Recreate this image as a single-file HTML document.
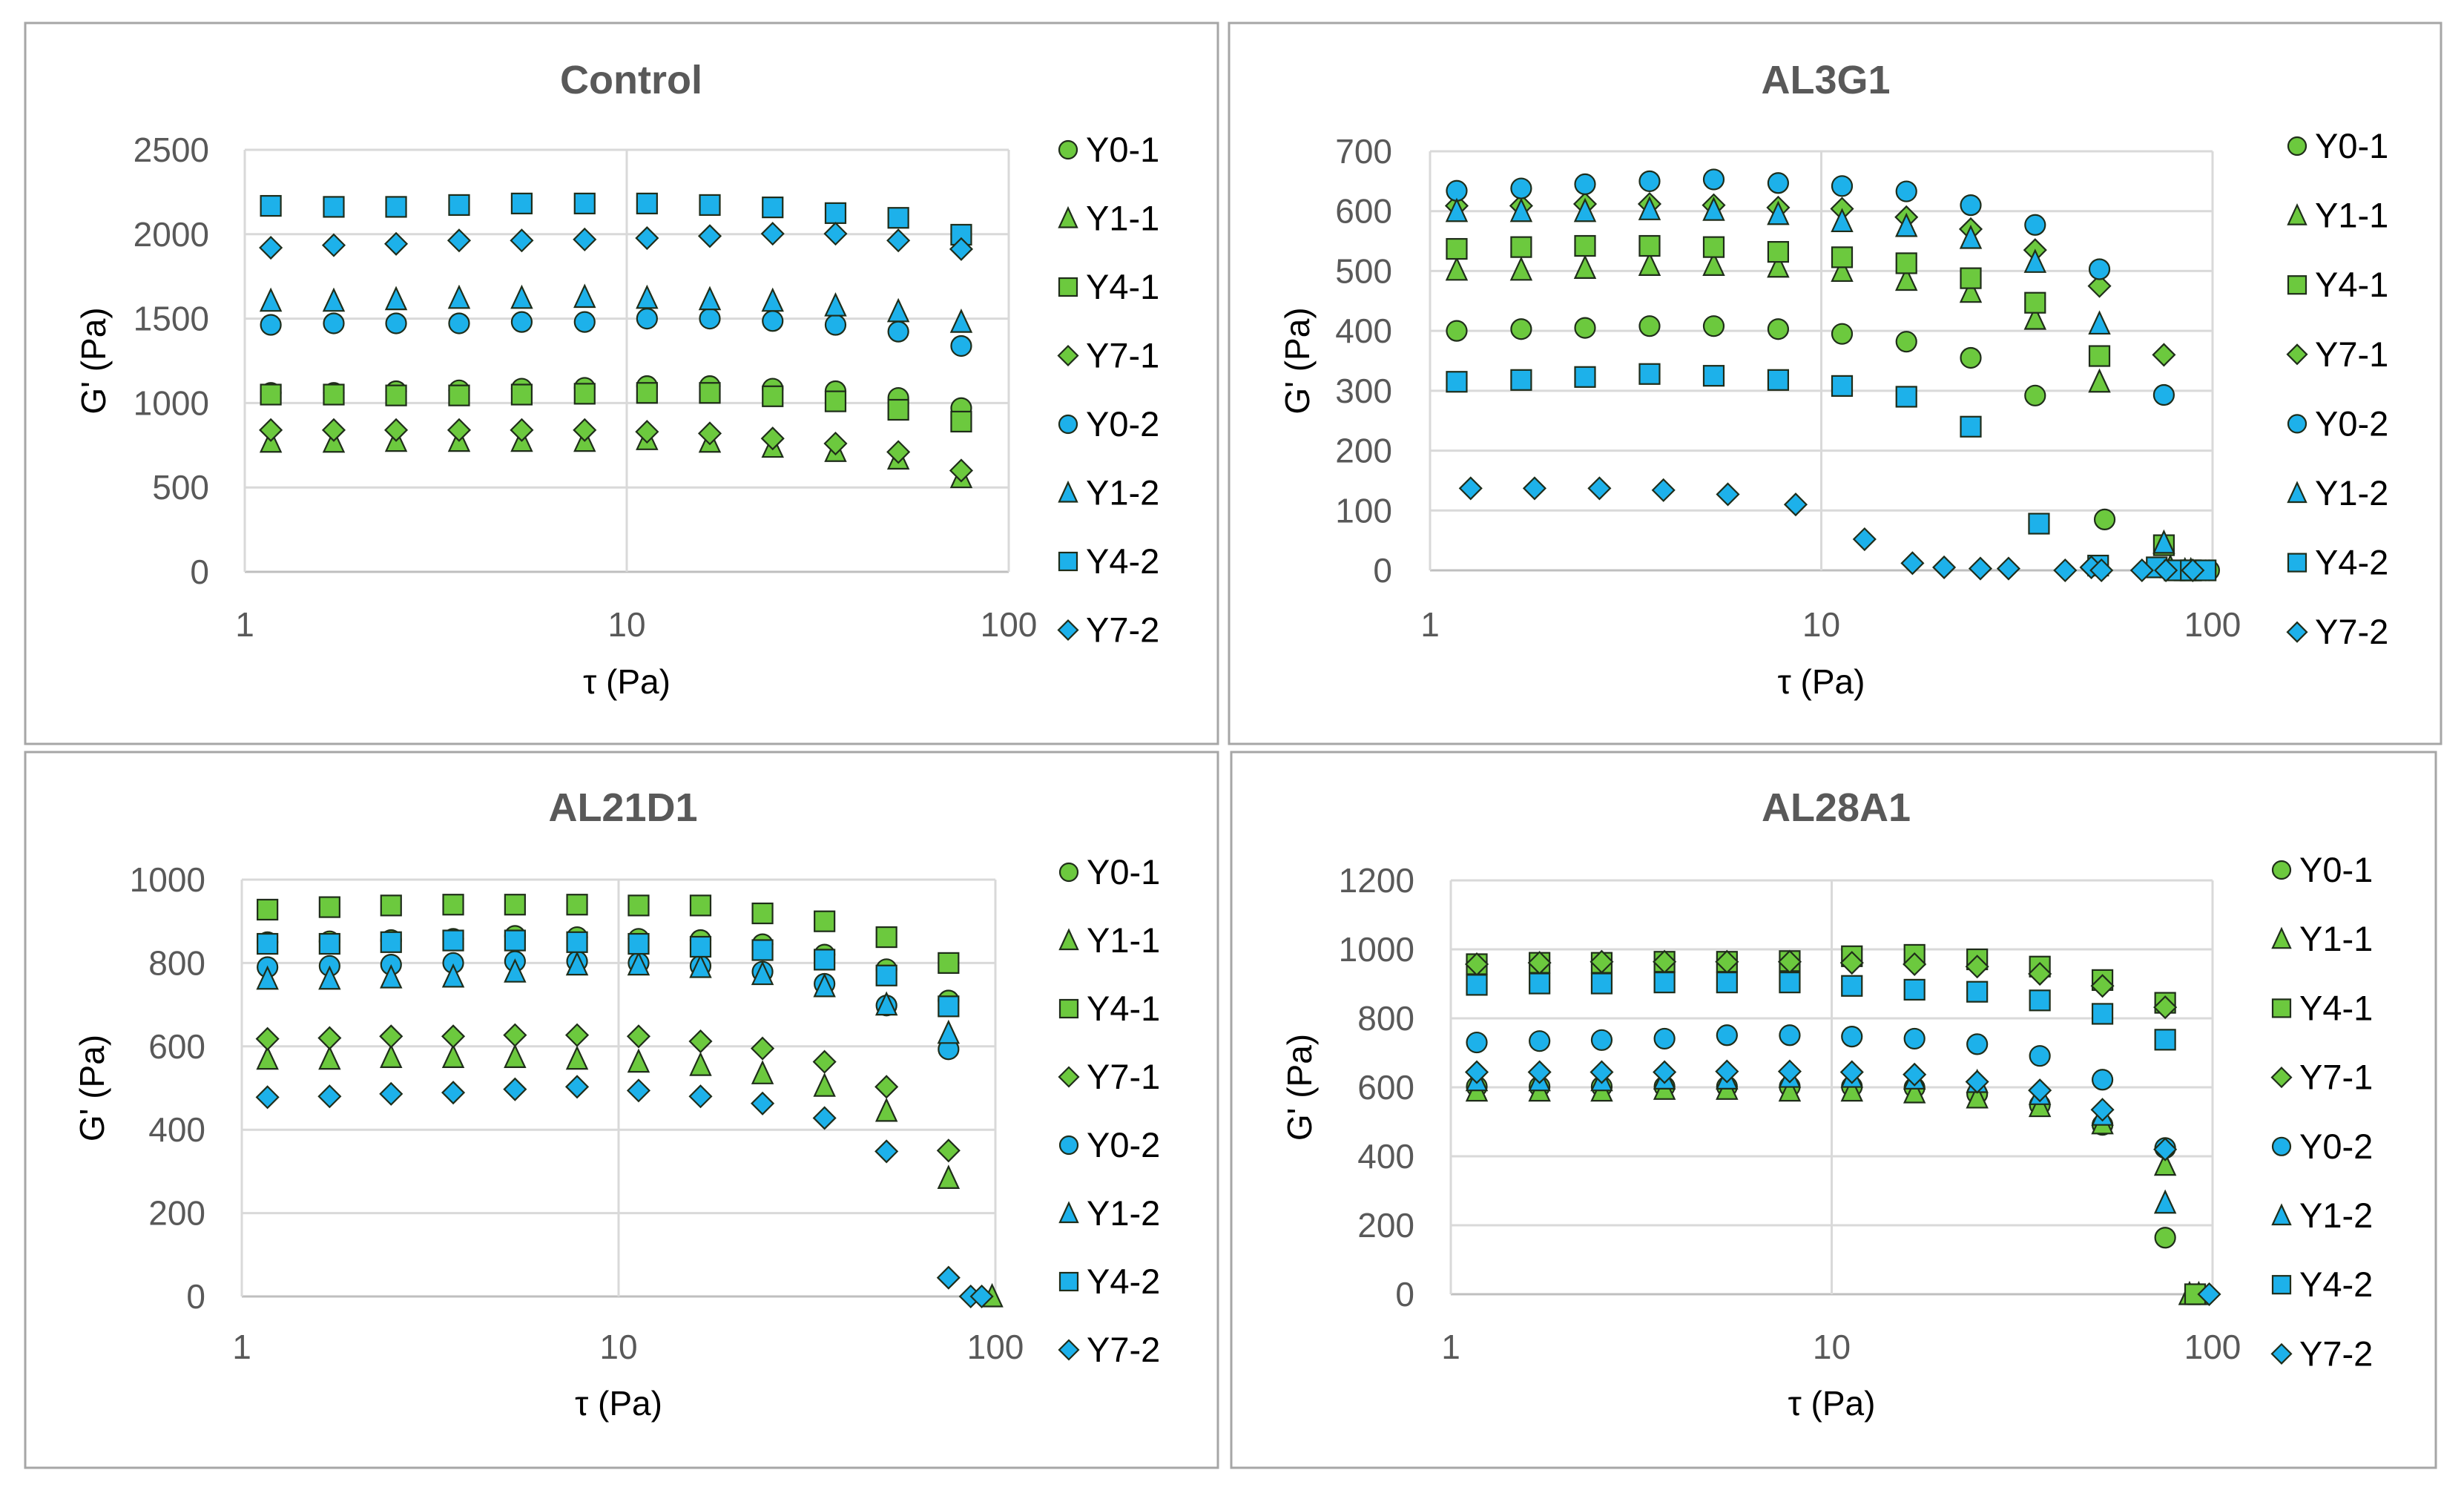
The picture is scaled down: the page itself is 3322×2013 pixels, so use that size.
<!DOCTYPE html>
<html><head><meta charset="utf-8"><title>G' vs tau</title>
<style>
html,body{margin:0;padding:0;background:#fff;}
svg{display:block;font-family:"Liberation Sans",sans-serif;}
</style></head>
<body>
<svg id="root" width="3322" height="2013" viewBox="0 0 3322 2013" xmlns="http://www.w3.org/2000/svg"></svg>
<script>
// ---- shared data ----
const seriesNames = ["Y0-1","Y1-1","Y4-1","Y7-1","Y0-2","Y1-2","Y4-2","Y7-2"];
const tau = [1.17,1.71,2.49,3.64,5.31,7.76,11.3,16.5,24.1,35.2,51.4,75.1];
const xTickLabels = ["1","10","100"];

// ---- Control ----
const ctrlYTicks = [0,500,1000,1500,2000,2500];
const ctrl_Y0_1 = [1060,1060,1070,1075,1085,1090,1100,1100,1085,1070,1030,970];
const ctrl_Y1_1 = [770,770,775,775,775,775,785,770,740,715,670,560];
const ctrl_Y4_1 = [1050,1050,1045,1045,1050,1055,1060,1060,1040,1010,960,890];
const ctrl_Y7_1 = [840,840,840,840,840,840,830,820,790,760,710,600];
const ctrl_Y0_2 = [1463,1472,1472,1472,1480,1480,1500,1500,1486,1463,1423,1338];
const ctrl_Y1_2 = [1605,1605,1614,1622,1622,1628,1622,1614,1605,1577,1543,1480];
const ctrl_Y4_2 = [2168,2162,2162,2173,2182,2182,2182,2173,2159,2125,2097,1997];
const ctrl_Y7_2 = [1920,1935,1943,1963,1963,1969,1977,1989,2003,2003,1963,1912];

// ---- AL3G1 ----
const al3YTicks = [0,100,200,300,400,500,600,700];
const al3_Y0_1_x = [1.17,1.71,2.49,3.64,5.31,7.76,11.3,16.5,24.1,35.2,53,98];
const al3_Y0_1 = [400,403,405,408,408,403,395,382,355,292,85,0];
const al3_Y1_1_x = [1.17,1.71,2.49,3.64,5.31,7.76,11.3,16.5,24.1,35.2,51.4,78,88];
const al3_Y1_1 = [502,502,505,510,510,507,500,485,465,420,315,5,0];
const al3_Y4_1_x = [1.17,1.71,2.49,3.64,5.31,7.76,11.3,16.5,24.1,35.2,51.4,75.1,88];
const al3_Y4_1 = [537,540,542,542,540,532,523,513,488,447,358,42,0];
const al3_Y7_1 = [609,609,612,612,610,606,604,590,570,535,475,360];
const al3_Y0_2_x = [1.17,1.71,2.49,3.64,5.31,7.76,11.3,16.5,24.1,35.2,51.4,75.1,96];
const al3_Y0_2 = [634,638,645,650,653,647,642,633,610,577,503,293,0];
const al3_Y1_2_x = [1.17,1.71,2.49,3.64,5.31,7.76,11.3,16.5,24.1,35.2,51.4,75.1,85];
const al3_Y1_2 = [600,600,600,603,602,595,583,575,555,515,412,46,0];
const al3_Y4_2_x = [1.17,1.71,2.49,3.64,5.31,7.76,11.3,16.5,24.1,36,51,72,80,88,96];
const al3_Y4_2 = [315,318,323,328,325,318,308,290,240,78,8,5,0,0,0];
const al3_Y7_2_x = [1.27,1.85,2.71,3.95,5.77,8.6,12.9,17.1,20.6,25.5,30.1,42,49,52,66,76,89];
const al3_Y7_2 = [137,137,137,134,127,110,52,12,5,3,3,0,5,0,0,0,0];

// ---- AL21D1 ----
const al21YTicks = [0,200,400,600,800,1000];
const al21_Y0_1 = [850,852,855,858,865,862,858,855,845,820,785,710];
const al21_Y1_1_x = [1.17,1.71,2.49,3.64,5.31,7.76,11.3,16.5,24.1,35.2,51.4,75.1,98];
const al21_Y1_1 = [570,570,574,574,574,570,563,555,535,505,445,284,0];
const al21_Y4_1 = [928,934,938,940,940,940,938,938,919,900,862,800];
const al21_Y7_1 = [618,620,624,624,627,627,624,612,595,563,503,350];
const al21_Y0_2 = [790,793,796,800,804,804,800,793,779,750,698,593];
const al21_Y1_2 = [762,762,765,767,779,796,796,790,773,744,700,632];
const al21_Y4_2 = [846,846,850,854,854,850,846,839,831,808,770,696];
const al21_Y7_2_x = [1.17,1.71,2.49,3.64,5.31,7.76,11.3,16.5,24.1,35.2,51.4,75.1,86,92];
const al21_Y7_2 = [478,480,486,489,497,503,494,480,463,428,348,45,0,0];

// ---- AL28A1 ----
const al28YTicks = [0,200,400,600,800,1000,1200];
const al28_Y0_1 = [602,602,602,602,602,602,602,599,581,549,491,164];
const al28_Y1_1_x = [1.17,1.71,2.49,3.64,5.31,7.76,11.3,16.5,24.1,35.2,51.4,75.1,87,92];
const al28_Y1_1 = [590,590,590,595,595,590,590,585,570,545,495,375,0,0];
const al28_Y4_1_x = [1.17,1.71,2.49,3.64,5.31,7.76,11.3,16.5,24.1,35.2,51.4,75.1,90];
const al28_Y4_1 = [957,961,961,964,964,966,980,984,971,950,911,845,0];
const al28_Y7_1 = [957,961,964,964,964,964,961,957,950,929,894,832];
const al28_Y0_2 = [730,734,737,741,751,751,747,741,725,691,622,424];
const al28_Y1_2 = [620,620,620,625,625,630,630,625,615,580,520,265];
const al28_Y4_2 = [897,901,901,904,904,904,894,883,877,852,813,738];
const al28_Y7_2_x = [1.17,1.71,2.49,3.64,5.31,7.76,11.3,16.5,24.1,35.2,51.4,75.1,98];
const al28_Y7_2 = [644,644,644,644,646,646,644,637,616,591,535,420,0];

const GREEN = "#6cc93e", BLUE = "#1db1ea", STROKE = "#1f2d1a";
const shapes = ["circle","triangle","square","diamond","circle","triangle","square","diamond"];
const colors = [GREEN,GREEN,GREEN,GREEN,BLUE,BLUE,BLUE,BLUE];

const panels = [
 {title:"Control", box:[34,31,1608,972], plot:[330,202,1360,771], ymax:2500, yticks:ctrlYTicks,
  yLabX:282, yTitleX:127, titleY:122, xLabY:860, xTitleY:935, legX:1440, legY0:202, legDy:92.5,
  series:[[tau,ctrl_Y0_1],[tau,ctrl_Y1_1],[tau,ctrl_Y4_1],[tau,ctrl_Y7_1],[tau,ctrl_Y0_2],[tau,ctrl_Y1_2],[tau,ctrl_Y4_2],[tau,ctrl_Y7_2]]},
 {title:"AL3G1", box:[1657,31,1634,972], plot:[1928,204,2983,769], ymax:700, yticks:al3YTicks,
  yLabX:1877, yTitleX:1750, titleY:122, xLabY:860, xTitleY:935, legX:3097, legY0:197, legDy:93.6,
  series:[[al3_Y0_1_x,al3_Y0_1],[al3_Y1_1_x,al3_Y1_1],[al3_Y4_1_x,al3_Y4_1],[tau,al3_Y7_1],[al3_Y0_2_x,al3_Y0_2],[al3_Y1_2_x,al3_Y1_2],[al3_Y4_2_x,al3_Y4_2],[al3_Y7_2_x,al3_Y7_2]]},
 {title:"AL21D1", box:[34,1014,1608,965], plot:[326,1186,1342,1748], ymax:1000, yticks:al21YTicks,
  yLabX:277, yTitleX:125, titleY:1103, xLabY:1834, xTitleY:1908, legX:1441, legY0:1176, legDy:92,
  series:[[tau,al21_Y0_1],[al21_Y1_1_x,al21_Y1_1],[tau,al21_Y4_1],[tau,al21_Y7_1],[tau,al21_Y0_2],[tau,al21_Y1_2],[tau,al21_Y4_2],[al21_Y7_2_x,al21_Y7_2]]},
 {title:"AL28A1", box:[1660,1014,1624,965], plot:[1956,1187,2983,1745], ymax:1200, yticks:al28YTicks,
  yLabX:1907, yTitleX:1753, titleY:1103, xLabY:1834, xTitleY:1908, legX:3076, legY0:1173, legDy:93.2,
  series:[[tau,al28_Y0_1],[al28_Y1_1_x,al28_Y1_1],[al28_Y4_1_x,al28_Y4_1],[tau,al28_Y7_1],[tau,al28_Y0_2],[tau,al28_Y1_2],[tau,al28_Y4_2],[al28_Y7_2_x,al28_Y7_2]]}
];

const NS = "http://www.w3.org/2000/svg";
const root = document.getElementById("root");
function mk(tag, attrs, parent){
  const e = document.createElementNS(NS, tag);
  for (const k in attrs) e.setAttribute(k, attrs[k]);
  (parent||root).appendChild(e);
  return e;
}
function marker(g, shape, cx, cy, s, fill){
  let e;
  const h = s/2;
  if (shape==="circle") e = mk("circle",{cx:cx,cy:cy,r:h,fill:fill,stroke:STROKE,"stroke-width":2.2},g);
  else if (shape==="square") e = mk("rect",{x:cx-h,y:cy-h,width:s,height:s,fill:fill,stroke:STROKE,"stroke-width":2.2},g);
  else if (shape==="triangle") e = mk("polygon",{points:`${cx},${cy-h-2} ${cx+h},${cy+h} ${cx-h},${cy+h}`,fill:fill,stroke:STROKE,"stroke-width":2.2},g);
  else e = mk("polygon",{points:`${cx},${cy-h-1} ${cx+h+1},${cy} ${cx},${cy+h+1} ${cx-h-1},${cy}`,fill:fill,stroke:STROKE,"stroke-width":2.2},g);
  return e;
}

panels.forEach((p, pi) => {
  const g = mk("g", {});
  
  
  const [bx,by,bw,bh] = p.box;
  const frame = mk("rect",{x:bx,y:by,width:bw,height:bh,fill:"#fff",stroke:"#a6a6a6","stroke-width":3},g);
  
  
  const [x0,y0,x1,y1] = p.plot;
  const xScale = v => x0 + (Math.log10(v)) / 2 * (x1 - x0);
  const yScale = v => y1 - v / p.ymax * (y1 - y0);

  p.yticks.forEach(t => {
    const ln = mk("line",{x1:x0,x2:x1,y1:yScale(t),y2:yScale(t),stroke:t===0?"#bfbfbf":"#d9d9d9","stroke-width":3},g);
    
    
    const tx = mk("text",{x:p.yLabX,y:yScale(t)+16,"text-anchor":"end","font-size":46,fill:"#595959"},g);
    tx.textContent = t;
    
    
  });
  [1,10,100].forEach((v,i) => {
    const ln = mk("line",{x1:xScale(v),x2:xScale(v),y1:y0,y2:y1,stroke:"#d9d9d9","stroke-width":3},g);
    
    
    const tx = mk("text",{x:xScale(v),y:p.xLabY-2,"text-anchor":"middle","font-size":46,fill:"#595959"},g);
    tx.textContent = xTickLabels[i];
    
    
  });
  const title = mk("text",{x:(x0+x1)/2+6,y:p.titleY+4,"text-anchor":"middle","font-size":54,"font-weight":"bold",fill:"#595959"},g);
  title.textContent = p.title;
  
  
  const xt = mk("text",{x:(x0+x1)/2,y:p.xTitleY,"text-anchor":"middle","font-size":46,fill:"#000"},g);
  xt.textContent = "τ (Pa)";
  
  
  const ym = (y0+y1)/2;
  const yt = mk("text",{x:p.yTitleX+15,y:ym,"text-anchor":"middle","font-size":46,fill:"#000",transform:`rotate(-90 ${p.yTitleX+15} ${ym})`},g);
  yt.textContent = "G' (Pa)";
  
  

  p.series.forEach((s, si) => {
    const sg = mk("g",{},g);
    
    
    const xs = s[0], ys = s[1];
    for (let i = 0; i < ys.length; i++) {
      const m = marker(sg, shapes[si], xScale(xs[i]), yScale(ys[i]), 27, colors[si]);
      
      
    }
  });

  const lg = mk("g",{},g);
  
  
  seriesNames.forEach((n, si) => {
    const cy = p.legY0 + si * p.legDy;
    const eg = mk("g",{},lg);
    
    
    marker(eg, shapes[si], p.legX, cy, 24, colors[si]);
    const t = mk("text",{x:p.legX+24,y:cy+16,"font-size":47,fill:"#000"},eg);
    t.textContent = n;
    
    
  });
});
</script>
</body></html>
